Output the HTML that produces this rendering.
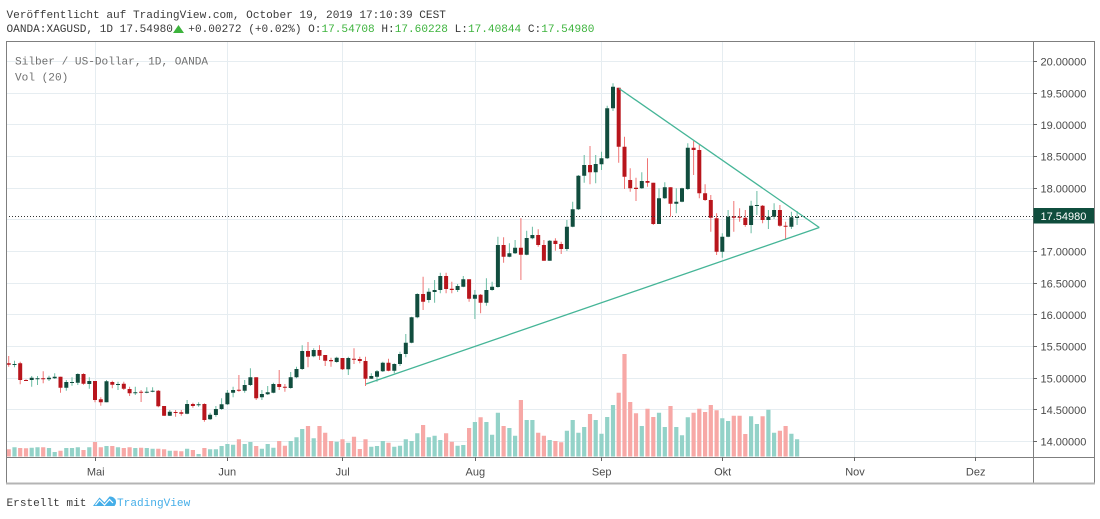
<!DOCTYPE html>
<html><head><meta charset="utf-8"><style>
html,body{margin:0;padding:0;background:#fff;}
svg{display:block;}
.mono{font-family:"Liberation Mono",monospace;font-size:11.1px;}
.ax{font-family:"Liberation Sans",sans-serif;font-size:11px;fill:#4a4a4a;}
</style></head><body>
<svg width="1100" height="519" viewBox="0 0 1100 519" xmlns="http://www.w3.org/2000/svg">
<rect width="1100" height="519" fill="#fff"/>
<!-- header -->
<text class="mono" x="6.5" y="18" fill="#3a3a3a">Veröffentlicht auf TradingView.com, October 19, 2019 17:10:39 CEST</text>
<text class="mono" x="6.5" y="32" fill="#3a3a3a">OANDA:XAGUSD, 1D 17.54980</text>
<polygon points="173,33 178.5,25 184,33" fill="#3db33d"/>
<text class="mono" x="188.3" y="32" fill="#3a3a3a">+0.00272 (+0.02%) O:<tspan fill="#3db33d">17.54708</tspan> H:<tspan fill="#3db33d">17.60228</tspan> L:<tspan fill="#3db33d">17.40844</tspan> C:<tspan fill="#3db33d">17.54980</tspan></text>

<!-- grid -->
<g stroke="#e6edf1" stroke-width="1">
<path d="M6 61.5H1033M6 93.5H1033M6 124.5H1033M6 156.5H1033M6 188.5H1033M6 219.5H1033M6 251.5H1033M6 283.5H1033M6 314.5H1033M6 346.5H1033M6 378.5H1033M6 409.5H1033M6 441.5H1033"/>
<path d="M95.5 41V457M227.5 41V457M342.5 41V457M475.5 41V457M601.5 41V457M722.5 41V457M854.5 41V457M975.5 41V457"/>
</g>

<!-- legend -->
<text class="mono" x="15" y="64.3" fill="#707070">Silber / US-Dollar, 1D, OANDA</text>
<text class="mono" x="15" y="80.7" fill="#707070">Vol (20)</text>

<!-- volume -->
<path fill="#93d2c8" d="M12.4 447.3h4.2V456.5h-4.2zM29.6 447.7h4.2V456.5h-4.2zM35.4 447.3h4.2V456.5h-4.2zM46.9 448h4.2V456.5h-4.2zM52.6 452h4.2V456.5h-4.2zM64.2 448h4.2V456.5h-4.2zM69.9 448h4.2V456.5h-4.2zM75.7 447.3h4.2V456.5h-4.2zM87.2 447.3h4.2V456.5h-4.2zM104.4 446h4.2V456.5h-4.2zM115.9 447.3h4.2V456.5h-4.2zM133.2 448h4.2V456.5h-4.2zM144.7 448h4.2V456.5h-4.2zM150.5 448.7h4.2V456.5h-4.2zM167.7 450.7h4.2V456.5h-4.2zM185 448.7h4.2V456.5h-4.2zM196.5 454h4.2V456.5h-4.2zM208 449.3h4.2V456.5h-4.2zM213.8 449.3h4.2V456.5h-4.2zM219.5 446h4.2V456.5h-4.2zM225.3 444h4.2V456.5h-4.2zM231 444.7h4.2V456.5h-4.2zM242.6 444h4.2V456.5h-4.2zM248.3 442h4.2V456.5h-4.2zM259.8 448.7h4.2V456.5h-4.2zM265.6 444h4.2V456.5h-4.2zM271.3 447.7h4.2V456.5h-4.2zM288.6 441h4.2V456.5h-4.2zM294.4 437.3h4.2V456.5h-4.2zM300.1 429h4.2V456.5h-4.2zM311.6 438.3h4.2V456.5h-4.2zM334.6 441.7h4.2V456.5h-4.2zM346.2 442.7h4.2V456.5h-4.2zM369.2 446.7h4.2V456.5h-4.2zM374.9 446h4.2V456.5h-4.2zM380.7 441h4.2V456.5h-4.2zM392.2 446.7h4.2V456.5h-4.2zM397.9 445.7h4.2V456.5h-4.2zM403.7 439.3h4.2V456.5h-4.2zM409.5 441h4.2V456.5h-4.2zM415.2 433.3h4.2V456.5h-4.2zM426.7 437.3h4.2V456.5h-4.2zM432.5 435.7h4.2V456.5h-4.2zM438.2 440h4.2V456.5h-4.2zM455.5 445.7h4.2V456.5h-4.2zM461.2 445h4.2V456.5h-4.2zM472.8 422h4.2V456.5h-4.2zM484.3 422h4.2V456.5h-4.2zM490 434.7h4.2V456.5h-4.2zM495.8 412.7h4.2V456.5h-4.2zM507.3 428h4.2V456.5h-4.2zM513 435.7h4.2V456.5h-4.2zM524.6 420h4.2V456.5h-4.2zM530.3 420h4.2V456.5h-4.2zM547.6 440h4.2V456.5h-4.2zM564.8 430.7h4.2V456.5h-4.2zM570.6 420h4.2V456.5h-4.2zM576.3 432.7h4.2V456.5h-4.2zM582.1 427h4.2V456.5h-4.2zM593.6 420h4.2V456.5h-4.2zM599.4 433.7h4.2V456.5h-4.2zM605.1 417h4.2V456.5h-4.2zM610.9 405h4.2V456.5h-4.2zM639.7 426h4.2V456.5h-4.2zM656.9 412.7h4.2V456.5h-4.2zM662.7 427h4.2V456.5h-4.2zM674.2 427h4.2V456.5h-4.2zM679.9 435.3h4.2V456.5h-4.2zM685.7 417.3h4.2V456.5h-4.2zM720.2 418.3h4.2V456.5h-4.2zM726 421h4.2V456.5h-4.2zM749 416.3h4.2V456.5h-4.2zM754.8 424h4.2V456.5h-4.2zM766.3 409.7h4.2V456.5h-4.2zM772 432.7h4.2V456.5h-4.2zM789.3 433.7h4.2V456.5h-4.2zM795 439.3h4.2V456.5h-4.2z"/>
<path fill="#f7a8a6" d="M6.6 449.3h4.2V456.5h-4.2zM18.1 448h4.2V456.5h-4.2zM23.9 448.3h4.2V456.5h-4.2zM41.1 447.3h4.2V456.5h-4.2zM58.4 450.7h4.2V456.5h-4.2zM81.4 450h4.2V456.5h-4.2zM92.9 442h4.2V456.5h-4.2zM98.7 447.3h4.2V456.5h-4.2zM110.2 446h4.2V456.5h-4.2zM121.7 448h4.2V456.5h-4.2zM127.5 447.3h4.2V456.5h-4.2zM139 447.7h4.2V456.5h-4.2zM156.2 448.7h4.2V456.5h-4.2zM162 449.3h4.2V456.5h-4.2zM173.5 450.7h4.2V456.5h-4.2zM179.2 451.3h4.2V456.5h-4.2zM190.8 450h4.2V456.5h-4.2zM202.3 448h4.2V456.5h-4.2zM236.8 439.3h4.2V456.5h-4.2zM254.1 446h4.2V456.5h-4.2zM277.1 441h4.2V456.5h-4.2zM282.8 445.7h4.2V456.5h-4.2zM305.9 426h4.2V456.5h-4.2zM317.4 426h4.2V456.5h-4.2zM323.1 432.7h4.2V456.5h-4.2zM328.9 441h4.2V456.5h-4.2zM340.4 439.3h4.2V456.5h-4.2zM351.9 436.7h4.2V456.5h-4.2zM357.7 449h4.2V456.5h-4.2zM363.4 439.3h4.2V456.5h-4.2zM386.4 442.7h4.2V456.5h-4.2zM421 425h4.2V456.5h-4.2zM444 433.3h4.2V456.5h-4.2zM449.7 441.7h4.2V456.5h-4.2zM467 428h4.2V456.5h-4.2zM478.5 417.3h4.2V456.5h-4.2zM501.5 426h4.2V456.5h-4.2zM518.8 400h4.2V456.5h-4.2zM536.1 432.7h4.2V456.5h-4.2zM541.8 435.7h4.2V456.5h-4.2zM553.3 441h4.2V456.5h-4.2zM559.1 442.3h4.2V456.5h-4.2zM587.9 414h4.2V456.5h-4.2zM616.6 392.7h4.2V456.5h-4.2zM622.4 354h4.2V456.5h-4.2zM628.1 402h4.2V456.5h-4.2zM633.9 413.3h4.2V456.5h-4.2zM645.4 408.7h4.2V456.5h-4.2zM651.2 417h4.2V456.5h-4.2zM668.4 406h4.2V456.5h-4.2zM691.5 412.7h4.2V456.5h-4.2zM697.2 408.7h4.2V456.5h-4.2zM703 412h4.2V456.5h-4.2zM708.7 405h4.2V456.5h-4.2zM714.5 410.3h4.2V456.5h-4.2zM731.7 415.7h4.2V456.5h-4.2zM737.5 415.7h4.2V456.5h-4.2zM743.2 434h4.2V456.5h-4.2zM760.5 416.3h4.2V456.5h-4.2zM777.8 430.7h4.2V456.5h-4.2zM783.5 426h4.2V456.5h-4.2z"/>

<!-- wicks -->
<path fill="none" stroke="#6bbca3" stroke-width="1" d="M14.5 360.7V367.3M31.7 376V386.7M37.5 376V385M49 375.7V381M54.7 373.3V379M66.3 380V390.7M72 377.3V385.7M77.8 373.3V385M89.3 377.3V388.7M106.5 380V402.3M118 381.7V390M135.3 386.7V395M146.8 387.3V393.3M152.6 387.3V392.3M169.8 410V416M187.1 400V414.3M198.6 402.3V406.7M210.1 412.7V420M215.9 406V416.7M221.6 398.3V410M227.4 390V405M233.1 386.7V397.3M244.7 380V392.7M250.4 368.3V386M261.9 390V400M267.7 386V395M273.4 382.7V393.3M290.7 372V388.7M296.5 366.7V378.3M302.2 345.3V370M313.7 348.3V357.3M336.7 356.7V362.7M348.3 356.7V375M371.3 373.3V379M377 370V381.7M382.8 361.7V372M394.3 363.3V373.3M400 351.7V366M405.8 334V357.3M411.6 316.7V343.3M417.3 293.3V318.3M428.8 288.3V302.7M434.6 280V302.7M440.3 272.7V293.3M457.6 284V292M463.3 276V287.3M474.9 290V319M486.4 278.3V305.7M492.1 281.7V290.7M497.9 236.7V287.7M509.4 243.3V257.3M515.1 240V254M526.7 230.7V255.3M532.4 226.7V239.3M549.7 240V260.7M566.9 220V251M572.7 201.7V227.3M578.4 175V210M584.2 155V182.7M595.7 155V183.3M601.5 151.7V170M607.2 105.7V159M613 83.3V111M641.8 172.3V189M659 188.3V224M664.8 182.3V199M676.3 188.3V213.3M682 187.7V202.3M687.8 143.3V190M722.3 233.3V257.7M728.1 210V237.3M751.1 200.7V233.3M756.9 191V215M768.4 210V229M774.1 203.3V219M791.4 211.7V229M797.1 211V225"/>
<path fill="none" stroke="#ef7575" stroke-width="1" d="M8.7 356V366.7M20.2 361.7V384.3M26 379.3V381M43.2 371.3V383.3M60.5 376.7V392.7M83.5 373.3V384.7M95 381V402.3M100.8 397.3V405.7M112.3 380.7V388.3M123.8 381.7V390M129.6 386.7V396M141.1 390V402M158.3 390V407.3M164.1 406V416M175.6 410V416.7M181.3 410V415.7M192.9 402.7V407.7M204.4 403.3V421.7M238.9 375V391.7M256.2 377.3V400M279.2 370V390M284.9 384V391.7M308 342V367.3M319.5 345.3V360M325.2 355V366M331 357.7V366.7M342.5 358V370M354 348.3V364M359.8 356.7V363.3M365.5 356.7V386M388.5 358.7V371.3M423.1 276.7V310M446.1 272.7V293.3M451.8 281.7V293.3M469.1 279.3V301.7M480.6 294V313.3M503.6 237.3V262.7M520.9 218.3V280M538.2 229.3V246.7M543.9 240V260.7M555.4 238.3V250.7M561.2 241.7V254M590 146V184.3M618.7 87.7V162.7M624.5 136.7V189M630.2 168.3V191.7M636 177.7V201M647.5 158.3V186.7M653.3 182.7V225M670.5 187.3V216.7M693.6 141V175M699.3 145V198.3M705.1 184.3V201M710.8 195V231.7M716.6 213.3V255M733.8 201V231.7M739.6 208.3V221.7M745.3 210V226.7M762.6 205V223.3M779.9 205V226.7M785.6 221.7V240"/>

<!-- bodies -->
<path fill="#114d3e" d="M12.5 364h4V365h-4zM29.7 377.7h4V380h-4zM35.5 378.3h4V379.3h-4zM47 377.7h4V379.3h-4zM52.7 376.7h4V378.3h-4zM64.3 382h4V387.7h-4zM70 382h4V383h-4zM75.8 374h4V382.7h-4zM87.3 381h4V384h-4zM104.5 381.3h4V402.3h-4zM116 384h4V385h-4zM133.3 392.3h4V393.3h-4zM144.8 391.7h4V392.7h-4zM150.6 390.7h4V391.7h-4zM167.8 411.7h4V415.7h-4zM185.1 404h4V413.7h-4zM196.6 404.3h4V405.3h-4zM208.1 414.7h4V419.3h-4zM213.9 409h4V415h-4zM219.6 404.3h4V409h-4zM225.4 392.7h4V404.3h-4zM231.1 390h4V392.7h-4zM242.7 385h4V390.7h-4zM248.4 377.3h4V385h-4zM259.9 394h4V397.3h-4zM265.7 392.3h4V394.3h-4zM271.4 384h4V392.7h-4zM288.7 377.3h4V388h-4zM294.5 369h4V377.3h-4zM300.2 351h4V369h-4zM311.7 350h4V356.3h-4zM334.7 357.7h4V362h-4zM346.3 358h4V369.3h-4zM369.3 376h4V378.7h-4zM375 371.3h4V376.7h-4zM380.8 362.7h4V371.3h-4zM392.3 364h4V370.7h-4zM398 354h4V364h-4zM403.8 342.7h4V354h-4zM409.6 317.3h4V342.7h-4zM415.3 294h4V317.3h-4zM426.8 291.7h4V300h-4zM432.6 290h4V292h-4zM438.3 276h4V290h-4zM455.6 286h4V290h-4zM461.3 279.3h4V286.7h-4zM472.9 294.7h4V298.7h-4zM484.4 290h4V302.7h-4zM490.1 286.7h4V290h-4zM495.9 245h4V287h-4zM507.4 253.3h4V256.7h-4zM513.1 247.7h4V253.3h-4zM524.7 238h4V254.7h-4zM530.4 235h4V238.3h-4zM547.7 240.7h4V260.7h-4zM564.9 226.7h4V249h-4zM570.7 209.3h4V226.7h-4zM576.4 175.7h4V209.3h-4zM582.2 165h4V175.7h-4zM593.7 164h4V172.3h-4zM599.5 158.3h4V164.3h-4zM605.2 108.3h4V158.3h-4zM611 86.7h4V108.3h-4zM639.8 181h4V188.3h-4zM657 198.3h4V224h-4zM662.8 187.3h4V198.3h-4zM674.3 201.7h4V203.7h-4zM680 188.3h4V201.7h-4zM685.8 147.7h4V189h-4zM720.3 236.7h4V251.7h-4zM726.1 216.7h4V236.7h-4zM749.1 205.7h4V225h-4zM754.9 205h4V206h-4zM766.4 216.7h4V220h-4zM772.1 210h4V216.7h-4zM789.4 217.3h4V226.7h-4zM795.1 217h4V218h-4z"/>
<path fill="#b8151c" d="M6.7 363.3h4V364.7h-4zM18.2 363.3h4V380h-4zM24 380h4V381h-4zM41.2 378.3h4V379.3h-4zM58.5 376.7h4V387.7h-4zM81.5 374h4V383.7h-4zM93 381h4V400h-4zM98.8 399.3h4V402.3h-4zM110.3 382h4V384.7h-4zM121.8 383.7h4V388.7h-4zM127.6 389h4V393.3h-4zM139.1 391.8h4V392.8h-4zM156.3 390.7h4V406.3h-4zM162.1 406h4V415.7h-4zM173.6 412h4V413h-4zM179.3 412.3h4V413.7h-4zM190.9 404h4V406h-4zM202.4 404h4V420h-4zM236.9 389.7h4V390.7h-4zM254.2 377.3h4V398.3h-4zM277.2 384h4V387h-4zM282.9 386.7h4V387.7h-4zM306 351h4V356.7h-4zM317.5 350h4V355.7h-4zM323.2 355h4V360.7h-4zM329 360h4V361.3h-4zM340.5 358h4V369.3h-4zM352 358.7h4V359.7h-4zM357.8 359h4V361h-4zM363.5 361h4V378.7h-4zM386.5 362.7h4V370.7h-4zM421.1 294h4V301.7h-4zM444.1 276h4V289h-4zM449.8 288.7h4V290h-4zM467.1 279.3h4V298.7h-4zM478.6 294.7h4V302.7h-4zM501.6 245h4V256.7h-4zM518.9 247.7h4V254.7h-4zM536.2 235h4V245h-4zM541.9 245h4V260.7h-4zM553.4 240.7h4V244h-4zM559.2 244h4V249h-4zM588 165h4V172.3h-4zM616.7 87.7h4V146.7h-4zM622.5 146.7h4V176.7h-4zM628.2 180h4V188.3h-4zM634 187.7h4V189h-4zM645.5 181h4V182.7h-4zM651.3 182.7h4V224h-4zM668.5 187.3h4V203.7h-4zM691.6 147.7h4V150h-4zM697.3 150h4V193.3h-4zM703.1 193.3h4V200h-4zM708.8 200h4V217.7h-4zM714.6 218.3h4V251.7h-4zM731.8 216.3h4V217.7h-4zM737.6 216.7h4V217.7h-4zM743.3 217.7h4V225h-4zM760.6 205.7h4V220h-4zM777.9 210h4V225.7h-4zM783.6 225.7h4V226.7h-4z"/>

<!-- trend lines -->
<g stroke="#45b597" stroke-width="1.3" fill="none">
<line x1="619" y1="88.5" x2="819.3" y2="227.5"/>
<line x1="366" y1="384" x2="819.3" y2="227.5"/>
</g>

<!-- current price dotted line -->
<line x1="6" y1="216.5" x2="1033" y2="216.5" stroke="#333" stroke-width="1" stroke-dasharray="1 2"/>

<!-- frame -->
<path d="M6.5 41V483.5M6 41.5H1094.5M1094.5 41V484M1033.5 41V484M6 457.5H1094.5" stroke="#7f7f7f" stroke-width="1" fill="none"/>
<line x1="6" y1="483.5" x2="1095" y2="483.5" stroke="#b4b4b4" stroke-width="2"/>

<!-- price axis -->
<g stroke="#666" stroke-width="1">
<path d="M1033 61.5H1037M1033 93.5H1037M1033 124.5H1037M1033 156.5H1037M1033 188.5H1037M1033 251.5H1037M1033 283.5H1037M1033 314.5H1037M1033 346.5H1037M1033 378.5H1037M1033 409.5H1037M1033 441.5H1037"/>
<path d="M95.5 457V461M227.5 457V461M342.5 457V461M475.5 457V461M601.5 457V461M722.5 457V461M854.5 457V461M975.5 457V461"/>
</g>
<g class="ax">
<text x="1040.5" y="65.6">20.00000</text>
<text x="1040.5" y="97.3">19.50000</text>
<text x="1040.5" y="128.9">19.00000</text>
<text x="1040.5" y="160.6">18.50000</text>
<text x="1040.5" y="192.3">18.00000</text>
<text x="1040.5" y="255.6">17.00000</text>
<text x="1040.5" y="287.3">16.50000</text>
<text x="1040.5" y="318.9">16.00000</text>
<text x="1040.5" y="350.6">15.50000</text>
<text x="1040.5" y="382.3">15.00000</text>
<text x="1040.5" y="413.9">14.50000</text>
<text x="1040.5" y="445.6">14.00000</text>
</g>
<rect x="1033.5" y="208" width="60.5" height="15.5" fill="#0f4d3d"/>
<text x="1040.5" y="220" font-family="Liberation Sans, sans-serif" font-size="11" fill="#fff">17.54980</text>

<!-- time axis -->
<g class="ax" text-anchor="middle" fill="#3a3a3a">
<text x="95.7" y="475.5">Mai</text>
<text x="227.3" y="475.5">Jun</text>
<text x="342.7" y="475.5">Jul</text>
<text x="475.3" y="475.5">Aug</text>
<text x="601.7" y="475.5">Sep</text>
<text x="722.7" y="475.5">Okt</text>
<text x="855" y="475.5">Nov</text>
<text x="975.7" y="475.5">Dez</text>
</g>

<!-- footer -->
<text class="mono" x="6.5" y="506" fill="#3a3a3a">Erstellt mit</text>
<path d="M93 506 L99.5 497.5 L104.5 502.5 L109.5 496.5 Q113 496 115.5 499.5 Q117 503 114.5 506 Z" fill="#45aee8"/>
<path d="M95.5 505 L99.5 500 L104.5 505 L109.5 499.5 L113 503" stroke="#fff" stroke-width="1.2" fill="none"/>
<text class="mono" x="117" y="506" fill="#45aee8">TradingView</text>
</svg>
</body></html>
